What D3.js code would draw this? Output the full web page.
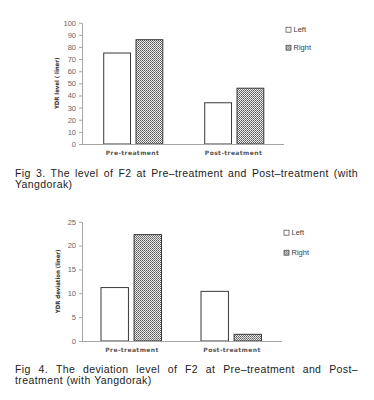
<!DOCTYPE html>
<html lang="en">
<head>
<meta charset="UTF-8">
<script src="https://d3js.org/d3.v7.min.js"></script>
<title>F2 level</title>
<style>
  body { margin: 0; background: #fff; }
  svg { display: block; }
</style>
</head>
<body>
<script>
// data
var categories = ["Pre-treatment", "Post-treatment"];
var seriesNames = ["Left", "Right"];
var levelLeft = [75, 34];
var levelRight = [86, 46];
var devLeft = [11.2, 10.4];
var devRight = [22.3, 1.4];
var levelTicks = [0, 10, 20, 30, 40, 50, 60, 70, 80, 90, 100];
var devTicks = [0, 5, 10, 15, 20, 25];

var captions = [
    ["Fig 3. The level of F2 at Pre\u2013treatment and Post\u2013treatment (with", "Yangdorak)"],
    ["Fig 4. The deviation level of F2 at Pre\u2013treatment and Post\u2013", "treatment (with Yangdorak)"]
];

var svg = d3.select("body").append("svg")
    .attr("width", 374)
    .attr("height", 400);

// fine checker pattern for the Right bars
var defs = svg.append("defs");
var pat = defs.append("pattern")
    .attr("id", "hatch")
    .attr("patternUnits", "userSpaceOnUse")
    .attr("width", 2).attr("height", 2);
pat.append("rect").attr("width", 2).attr("height", 2).attr("fill", "#ececec");
pat.append("rect").attr("width", 1).attr("height", 1).attr("fill", "#5a5a5a");
pat.append("rect").attr("x", 1).attr("y", 1).attr("width", 1).attr("height", 1).attr("fill", "#7a7a7a");

function drawChart(opt) {
    var g = svg.append("g");

    var x = d3.scaleBand().domain(categories).range([opt.x0, opt.x1]);
    var xs = d3.scaleBand().domain(seriesNames)
        .range([x.bandwidth() * opt.inL, x.bandwidth() * opt.inR])
        .paddingInner(0.17);
    var y = d3.scaleLinear().domain([0, opt.max]).range([opt.yBottom, opt.yTop]);

    // y axis
    var yAxis = g.append("g")
        .attr("transform", "translate(" + opt.x0 + ",0)")
        .call(d3.axisLeft(y).tickValues(opt.ticks).tickSize(3).tickPadding(3).tickSizeOuter(0));
    yAxis.select(".domain").attr("stroke", "#a6a6a6");
    yAxis.selectAll(".tick line").attr("stroke", "#a6a6a6");
    yAxis.selectAll(".tick text")
        .attr("fill", "#666")
        .style("font-family", "Liberation Sans, Arial, sans-serif")
        .style("font-size", "7.5px");

    // bars
    var rows = categories.map(function (c, i) {
        return [{ cat: c, s: "Left", v: opt.left[i] }, { cat: c, s: "Right", v: opt.right[i] }];
    });
    g.selectAll("g.cat")
        .data(rows)
        .join("g")
        .attr("class", "cat")
        .attr("transform", function (d) { return "translate(" + x(d[0].cat) + ",0)"; })
        .selectAll("rect")
        .data(function (d) { return d; })
        .join("rect")
        .attr("x", function (d) { return xs(d.s); })
        .attr("y", function (d) { return y(d.v); })
        .attr("width", xs.bandwidth())
        .attr("height", function (d) { return y(0) - y(d.v); })
        .attr("fill", function (d) { return d.s === "Left" ? "#fff" : "url(#hatch)"; })
        .attr("stroke", "#3a3a3a")
        .attr("stroke-width", 1);

    // x axis line
    g.append("line")
        .attr("x1", opt.x0).attr("x2", opt.x1)
        .attr("y1", y(0) + 0.5).attr("y2", y(0) + 0.5)
        .attr("stroke", "#a6a6a6");

    // category labels
    g.selectAll("text.cat")
        .data(categories)
        .join("text")
        .attr("class", "cat")
        .attr("x", function (d) { return x(d) + x.bandwidth() / 2; })
        .attr("y", opt.yBottom + 10.5)
        .attr("text-anchor", "middle")
        .attr("fill", "#555")
        .style("font-family", "DejaVu Sans, sans-serif")
        .style("font-weight", "bold")
        .style("font-size", "6px")
        .style("letter-spacing", "0.4px")
        .text(function (d) { return d; });

    // y label
    g.append("text")
        .attr("transform", "translate(" + opt.labelX + "," + ((opt.yTop + opt.yBottom) / 2) + ") rotate(-90)")
        .attr("text-anchor", "middle")
        .attr("fill", "#333")
        .style("font-family", "DejaVu Sans Condensed, sans-serif")
        .style("font-weight", "bold")
        .style("font-size", "6px")
        .text(opt.yLabel);

    // legend
    var leg = g.selectAll("g.leg")
        .data(seriesNames)
        .join("g")
        .attr("class", "leg")
        .attr("transform", function (d, i) { return "translate(" + opt.legX + "," + (opt.legY + i * opt.legStep) + ")"; });
    leg.append("rect")
        .attr("x", 0).attr("y", -2.5)
        .attr("width", 5).attr("height", 5)
        .attr("fill", function (d) { return d === "Left" ? "#fff" : "url(#hatch)"; })
        .attr("stroke", "#444")
        .attr("stroke-width", 0.7);
    leg.append("text")
        .attr("x", 7.5).attr("y", 2.6)
        .attr("fill", "#404040")
        .style("font-family", "Liberation Sans, Arial, sans-serif")
        .style("font-size", "7.5px")
        .text(function (d) { return d; });
}

// justified caption: spread the words over the full width, last line left aligned
function drawCaption(lines, top) {
    var left = 15, right = 358, lineH = 11.5;
    lines.forEach(function (line, li) {
        var words = line.split(" ");
        var t = svg.append("text")
            .attr("y", top + li * lineH)
            .attr("fill", "#222")
            .style("font-family", "Liberation Sans, Arial, sans-serif")
            .style("font-size", "10.5px")
            .style("letter-spacing", "0.4px");
        var spans = t.selectAll("tspan").data(words).join("tspan").text(function (d) { return d; });
        var widths = [];
        spans.each(function () { widths.push(this.getComputedTextLength()); });
        var total = d3.sum(widths);
        var gap = li === lines.length - 1 ? 3.5 : (right - left - total) / (words.length - 1);
        var cx = left;
        spans.attr("x", function (d, i) {
            var xx = cx;
            cx += widths[i] + gap;
            return xx;
        });
    });
}

drawChart({
    x0: 82, x1: 284, yTop: 22.7, yBottom: 144, max: 100, ticks: levelTicks,
    left: levelLeft, right: levelRight, inL: 0.215, inR: 0.80,
    labelX: 59, yLabel: "YDR level ( liner)",
    legX: 286, legY: 29.7, legStep: 18
});
drawCaption(captions[0], 176.5);

drawChart({
    x0: 82, x1: 282, yTop: 221.7, yBottom: 341, max: 25, ticks: devTicks,
    left: devLeft, right: devRight, inL: 0.19, inR: 0.795,
    labelX: 60, yLabel: "YDR deviation (liner)",
    legX: 284, legY: 232.7, legStep: 20
});
drawCaption(captions[1], 372.5);
</script>
</body>
</html>
